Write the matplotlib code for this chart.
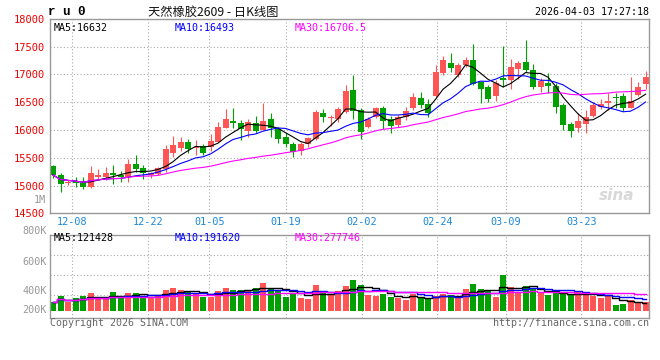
import matplotlib
matplotlib.use('Agg')
import matplotlib.pyplot as plt
import numpy as np
import pandas as pd

# daily candles, oldest first (80 sessions)
opens = [15352, 15190, 15040, 15082, 15052, 14980, 15160, 15160, 15220, 15190,
         15160, 15390, 15310, 15190, 15200, 15292, 15580, 15670, 15790, 15680,
         15712, 15690, 15790, 16040, 16160, 16130, 15990, 16130, 16000, 16193,
         16012, 15880, 15750, 15630, 15750, 15840, 16300, 16210, 16192, 16330,
         16720, 16360, 16060, 16228, 16390, 16190, 16090, 16230, 16390, 16570,
         16470, 16610, 17020, 17210, 16990, 17170, 17260, 16860, 16770, 16620,
         16930, 16900, 17090, 17230, 17080, 16780, 16850, 16790, 16450, 16110,
         16030, 16110, 16250, 16410, 16490, 16590, 16610, 16400, 16630, 16830]
highs = [15370, 15220, 15100, 15160, 15160, 15350, 15290, 15340, 15364, 15260,
         15470, 15550, 15370, 15250, 15330, 15730, 15892, 15868, 15832, 15820,
         15750, 15930, 16150, 16380, 16390, 16180, 16190, 16250, 16490, 16300,
         16060, 15940, 15790, 15790, 15880, 16360, 16370, 16270, 16420, 16810,
         16990, 16390, 16240, 16420, 16430, 16250, 16270, 16410, 16670, 16690,
         16550, 17170, 17330, 17380, 17200, 17320, 17550, 16890, 16810, 16900,
         17510, 17270, 17250, 17620, 17190, 16930, 17020, 16840, 16480, 16150,
         16300, 16360, 16510, 16550, 16660, 16660, 16660, 16960, 16870, 17060]
lows = [15142, 14890, 15010, 14980, 14940, 14950, 15110, 15100, 15030, 15070,
        15070, 15250, 15110, 15130, 15190, 15250, 15520, 15628, 15592, 15550,
        15550, 15630, 15790, 16030, 16030, 15820, 15880, 15950, 16000, 15880,
        15770, 15690, 15520, 15550, 15700, 15820, 16150, 16070, 16150, 16300,
        16190, 15840, 16030, 16210, 16010, 15950, 16060, 16180, 16360, 16390,
        16240, 16600, 16990, 17050, 16960, 17140, 16810, 16480, 16510, 16530,
        16780, 16730, 16910, 17050, 16730, 16680, 16670, 16300, 16000, 15880,
        15970, 15950, 16230, 16370, 16360, 16390, 16350, 16390, 16610, 16730]
closes = [15190, 15028, 15060, 15040, 14980, 15220, 15190, 15220, 15190, 15160,
          15390, 15300, 15220, 15230, 15310, 15652, 15730, 15790, 15652, 15700,
          15592, 15810, 16060, 16190, 16120, 16010, 16150, 15990, 16160, 16030,
          15832, 15742, 15610, 15750, 15850, 16330, 16230, 16230, 16380, 16710,
          16350, 15970, 16190, 16400, 16170, 16070, 16230, 16350, 16600, 16450,
          16310, 17050, 17260, 17120, 17170, 17260, 16830, 16740, 16560, 16840,
          16900, 17140, 17210, 17080, 16770, 16890, 16800, 16410, 16090, 15990,
          16160, 16230, 16450, 16460, 16520, 16570, 16400, 16520, 16780, 16950]
# volume in thousands of lots
vol_k = [139, 243, 149, 205, 243, 292, 205, 205, 309, 205,
         292, 292, 243, 231, 243, 342, 375, 342, 309, 276,
         221, 231, 325, 375, 342, 342, 342, 375, 457, 358,
         342, 231, 276, 215, 193, 424, 309, 259, 325, 408,
         507, 424, 259, 243, 276, 231, 215, 177, 276, 205,
         205, 243, 276, 259, 205, 358, 441, 358, 342, 231,
         589, 391, 314, 408, 370, 287, 259, 287, 287, 259,
         325, 259, 248, 215, 243, 94, 111, 177, 132, 149]

date_labels = ['12-08', '12-22', '01-05', '01-19', '02-02', '02-24', '03-09', '03-23']
date_pos = [2.57, 12.71, 20.84, 31.03, 41.16, 51.24, 60.36, 70.44]
price_ticks = [14500, 15000, 15500, 16000, 16500, 17000, 17500, 18000]
vol_labels = ['800K', '600K', '400K', '200K']
vol_label_y = [1.048, 0.676, 0.328, 0.100]   # axes fraction, as placed on the original
vol_grid = [919, 589, 259]

UP, DOWN = '#ff5555', '#00a000'
GRID = '#aaaaaa'
MONO = 'DejaVu Sans Mono'

o = np.array(opens); h = np.array(highs); l = np.array(lows); c = np.array(closes)
v = np.array(vol_k) * 1000.0
x = np.arange(len(c))
cols = [UP if cc >= oo else DOWN for oo, cc in zip(o, c)]

fig = plt.figure(figsize=(6.6, 3.6), dpi=100)
fx = lambda px: px / 660.0
fy = lambda py: 1 - py / 360.0

ax = fig.add_axes([fx(50.3), fy(213.3), fx(599), 194.4 / 360])
av = fig.add_axes([fx(50.3), fy(318.3), fx(599), 83.3 / 360])

for a in (ax, av):
    a.set_xlim(-0.36, 79.5)
    for s in a.spines.values():
        s.set_color('#999999')
        s.set_linewidth(1.0)
    a.set_xticks(date_pos)
    a.tick_params(length=0)
    a.grid(True, axis='x', color=GRID, linestyle=(0, (1, 2)), linewidth=0.8)
    a.set_axisbelow(True)

# price panel
ax.set_ylim(14500, 18000)
ax.set_yticks(price_ticks)
ax.set_yticklabels([str(t) for t in price_ticks], color='#ee0000', family=MONO, fontsize=7.5)
ax.tick_params(axis='y', pad=3.5)
ax.set_xticklabels(date_labels, color='#1a88d8', family=MONO, fontsize=7.3)
ax.tick_params(axis='x', pad=3)
ax.grid(True, axis='y', color=GRID, linestyle=(0, (1, 2)), linewidth=0.8)

ax.vlines(x, l, h, colors=cols, linewidth=0.8)
body = np.maximum(np.abs(c - o), 12)
ax.bar(x, body, bottom=np.minimum(o, c), width=0.8, color=cols, linewidth=0)

cs = pd.Series(c, dtype=float)
ax.plot(x, cs.rolling(5, min_periods=1).mean(), color='black', lw=0.8)
ax.plot(x, cs.rolling(10, min_periods=1).mean(), color='#0000ff', lw=0.8)
ax.plot(x, cs.rolling(30, min_periods=1).mean(), color='#ff00ff', lw=0.8)

ax.text(0.006, 0.955, 'MA5:16632', transform=ax.transAxes, color='black', family=MONO, fontsize=7.2, va='center')
ax.text(0.207, 0.955, 'MA10:16493', transform=ax.transAxes, color='#0000ff', family=MONO, fontsize=7.2, va='center')
ax.text(0.408, 0.955, 'MA30:16706.5', transform=ax.transAxes, color='#ff00ff', family=MONO, fontsize=7.2, va='center')
ax.text(0.945, 0.09, 'sina', transform=ax.transAxes, color='#d8d8d8', fontsize=11,
        fontweight='bold', style='italic', ha='center', va='center')

# volume panel
av.set_ylim(-125000, 1249000)
av.set_yticks([g * 1000 for g in vol_grid])
av.set_yticklabels([])
av.set_xticklabels([])
av.grid(True, axis='y', color=GRID, linestyle=(0, (1, 2)), linewidth=0.8)
av.bar(x, v, width=0.8, color=cols, linewidth=0)
vs = pd.Series(v)
av.plot(x, vs.rolling(5, min_periods=1).mean(), color='black', lw=1.0, drawstyle='steps-mid')
av.plot(x, vs.rolling(10, min_periods=1).mean(), color='#0000ff', lw=1.0, drawstyle='steps-mid')
av.plot(x, vs.rolling(30, min_periods=1).mean(), color='#ff00ff', lw=1.0, drawstyle='steps-mid')
for lab, yy in zip(vol_labels, vol_label_y):
    av.text(-0.006, yy, lab, transform=av.transAxes, ha='right', va='center',
            color='#999999', family=MONO, fontsize=7.3, clip_on=False)
av.text(0.006, 0.96, 'MA5:121428', transform=av.transAxes, color='black', family=MONO, fontsize=7.2, va='center')
av.text(0.207, 0.96, 'MA10:191620', transform=av.transAxes, color='#0000ff', family=MONO, fontsize=7.2, va='center')
av.text(0.408, 0.96, 'MA30:277746', transform=av.transAxes, color='#ff00ff', family=MONO, fontsize=7.2, va='center')

# header and footer
fig.text(fx(48), fy(12), 'r u 0', family='Liberation Mono', fontweight='bold', fontsize=9, va='center')
fig.text(fx(213), fy(12), '天然橡胶2609 - 日K线图', family=['Noto Sans CJK SC', 'DejaVu Sans'],
         fontsize=8.8, ha='center', va='center', color='#111111')
fig.text(fx(649), fy(12), '2026-04-03 17:27:18', family=MONO, fontsize=7.2, ha='right', va='center')
fig.text(fx(46), fy(200), '1M', family=MONO, fontsize=7.3, ha='right', va='center', color='#999999')
fig.text(fx(50), fy(323), 'Copyright 2026 SINA.COM', family=MONO, fontsize=7.2, va='center', color='#666666')
fig.text(fx(649), fy(323), 'http://finance.sina.com.cn', family=MONO, fontsize=7.2, ha='right',
         va='center', color='#666666')

fig.savefig('out.png', dpi=100)
